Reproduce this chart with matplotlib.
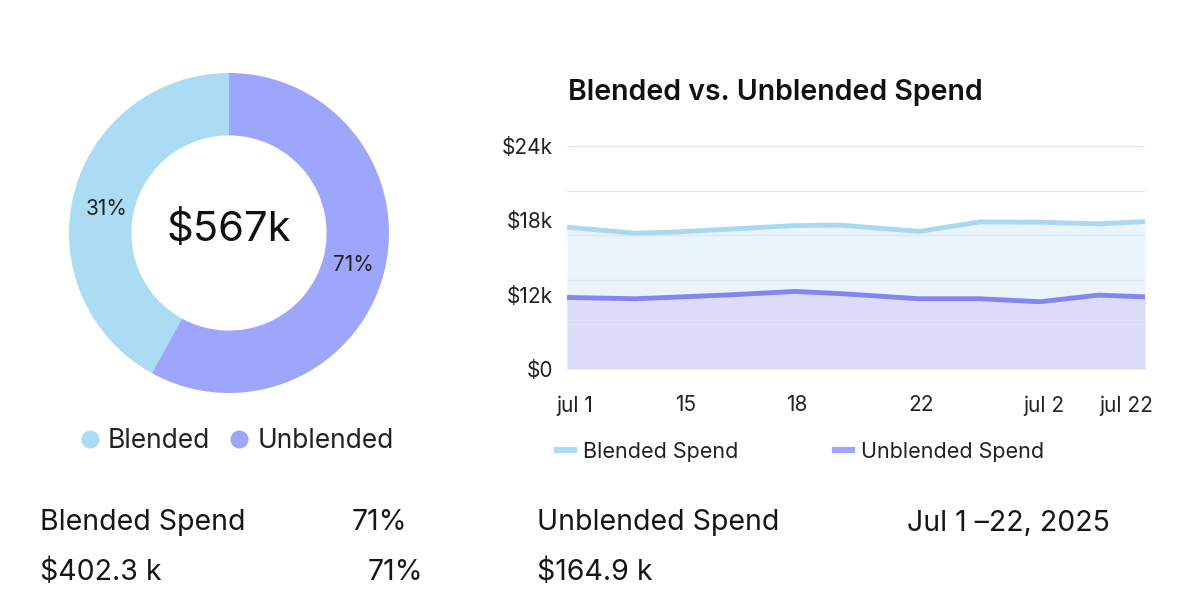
import matplotlib
matplotlib.use("Agg")
import matplotlib.pyplot as plt
from matplotlib.lines import Line2D

plt.rcParams['font.family'] = ['Inter', 'DejaVu Sans']

# donut data (slice shares as drawn, labels as printed)
donut_names = ['Blended', 'Unblended']
donut_shares = [42, 58]
donut_labels = ['31%', '71%']
donut_colors = ['#acdcf4', '#9ea6fc']
donut_total = '$567k'

# daily spend (axis units)
days = [0, 2.5, 4, 6, 8.3, 10, 12.8, 15, 17.2, 19.3, 21]
blended = [15.26, 14.61, 14.75, 15.07, 15.44, 15.47, 14.81, 15.83, 15.80, 15.62, 15.87]
unblended = [7.70, 7.56, 7.74, 7.99, 8.35, 8.10, 7.56, 7.56, 7.24, 7.95, 7.77]

x_tick_pos = [0.29, 4.32, 8.36, 12.86, 17.33, 20.3]
x_tick_labels = ['jul 1', '15', '18', '22', 'jul 2', 'jul 22']
y_tick_pos = [0, 8, 16, 24]
y_tick_labels = ['$0', '$12k', '$18k', '$24k']
grid_levels = [0, 4.8, 9.6, 14.4, 19.2, 24]

W, H = 1188, 612
fig = plt.figure(figsize=(W / 100, H / 100), dpi=100)
fig.patch.set_facecolor('white')


def px(x, y):
    # figure pixel -> figure fraction (y measured from top)
    return x / W, 1 - y / H


# ---- donut ----
ax1 = fig.add_axes([69 / W, (H - 393) / H, 320 / W, 320 / H])
ax1.pie(donut_shares, colors=donut_colors, startangle=90, counterclock=True,
        radius=1, wedgeprops=dict(width=0.39, linewidth=0))
ax1.set_xlim(-1, 1)
ax1.set_ylim(-1, 1)
ax1.set_aspect('equal')
ax1.axis('off')
ax1.text(0, 0.02, donut_total, ha='center', va='center', fontsize=30, color='#111111')
fig.text(*px(107, 209), donut_labels[0], ha='center', va='center', fontsize=15, color='#222222')
fig.text(*px(353, 265), donut_labels[1], ha='center', va='center', fontsize=15, color='#222222')

donut_handles = [Line2D([], [], marker='o', linestyle='none', markersize=13,
                        markerfacecolor=c, markeredgecolor='none') for c in donut_colors]
ax1.legend(donut_handles, donut_names, loc='center left', bbox_to_anchor=px(81, 441),
           bbox_transform=fig.transFigure, ncol=2, frameon=False, fontsize=19,
           handletextpad=0.32, columnspacing=0.76, handlelength=0.7, borderpad=0,
           borderaxespad=0, labelcolor='#222222')

# ---- line chart ----
ax2 = fig.add_axes([567 / W, (H - 369) / H, 578 / W, 223 / H])
ax2.fill_between(days, 0, blended, color='#eaf4fd', linewidth=0)
ax2.fill_between(days, 0, unblended, color='#dcdcf9', linewidth=0)
for g in grid_levels:
    ax2.axhline(g, color='#e4e4f5', linewidth=1, zorder=1)
ax2.plot(days, blended, color='#a8d8f2', linewidth=3.5, zorder=3)
ax2.plot(days, unblended, color='#8585f0', linewidth=3.5, zorder=3)
ax2.set_xlim(0, 21)
ax2.set_ylim(0, 24)
ax2.set_xticks(x_tick_pos, x_tick_labels)
ax2.set_yticks(y_tick_pos, y_tick_labels)
ax2.tick_params(axis='both', length=0, labelsize=15, colors='#222222')
ax2.tick_params(axis='y', pad=10)
ax2.tick_params(axis='x', pad=19)
for s in ax2.spines.values():
    s.set_visible(False)

fig.text(*px(568, 92), 'Blended vs. Unblended Spend', ha='left', va='center',
         fontsize=20.5, fontweight='semibold', color='#111111')

line_handles = [Line2D([], [], color='#acdcf4', linewidth=4.5),
                Line2D([], [], color='#9ea6fc', linewidth=4.5)]
ax2.legend(line_handles, ['Blended Spend', 'Unblended Spend'], loc='center left',
           bbox_to_anchor=px(557, 452), bbox_transform=fig.transFigure, ncol=2,
           frameon=False, fontsize=15.5, handlelength=0.8, handletextpad=0.4,
           columnspacing=4.5, borderpad=0, borderaxespad=0, labelcolor='#222222')

# ---- summary text ----
txt = dict(fontsize=20.5, color='#161616', va='center', ha='left')
fig.text(*px(40, 523), 'Blended Spend', **txt)
fig.text(*px(352, 523), '71%', **txt)
fig.text(*px(40, 572), '$402.3 k', **txt)
fig.text(*px(368, 572), '71%', **txt)
fig.text(*px(537, 523), 'Unblended Spend', **txt)
fig.text(*px(1110, 523), 'Jul 1 –22, 2025', **dict(txt, ha='right'))
fig.text(*px(537, 572), '$164.9 k', **txt)

fig.savefig('out.png', dpi=100, facecolor='white')
